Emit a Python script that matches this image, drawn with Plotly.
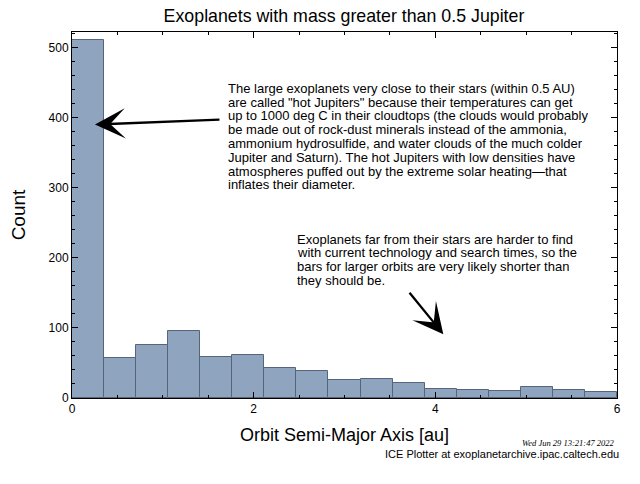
import numpy as np
import plotly.graph_objects as go

# Data
counts = [510, 57, 76, 95, 59, 62, 43, 39, 25, 27, 22, 13, 12, 10, 15, 12, 8]
x_min, x_max = 0.0, 6.0
edges = np.linspace(x_min, x_max, len(counts) + 1)
centers = (edges[:-1] + edges[1:]) / 2
widths = np.diff(edges)

title_text = "Exoplanets with mass greater than 0.5 Jupiter"
xlabel = "Orbit Semi-Major Axis [au]"
ylabel = "Count"
note_hot_lines = [
    "The large exoplanets very close to their stars (within 0.5 AU)",
    "are called \"hot Jupiters\" because their temperatures can get",
    "up to 1000 deg C in their cloudtops (the clouds would probably",
    "be made out of rock-dust minerals instead of the ammonia,",
    "ammonium hydrosulfide, and water clouds of the much colder",
    "Jupiter and Saturn). The hot Jupiters with low densities have",
    "atmospheres puffed out by the extreme solar heating\u2014that",
    "inflates their diameter.",
]
note_far_lines = [
    "Exoplanets far from their stars are harder to find",
    "with current technology and search times, so the",
    "bars for larger orbits are very likely shorter than",
    "they should be.",
]
stamp = "Wed Jun 29 13:21:47 2022"
credit = "ICE Plotter at exoplanetarchive.ipac.caltech.edu"

FONT = "Liberation Sans, Arial, sans-serif"
LINE_H = 13.8

fig = go.Figure()
fig.add_trace(go.Bar(
    x=centers, y=counts, width=widths,
    marker=dict(color="#8fa5bf", line=dict(color="#56657a", width=1)),
    showlegend=False, hoverinfo="skip",
))

fig.update_layout(
    width=640, height=484,
    margin=dict(l=72, r=23, t=32, b=86),
    paper_bgcolor="white", plot_bgcolor="white",
    font=dict(family=FONT, color="black", size=12),
    bargap=0,
    title=dict(text=title_text, x=0.5375, xanchor="center", y=0.967, yanchor="middle",
               font=dict(size=17.8, family=FONT)),
)

fig.update_xaxes(
    range=[x_min, x_max], showgrid=False, zeroline=False,
    showline=True, linecolor="black", linewidth=1, mirror="allticks",
    ticks="inside", ticklen=6, tickwidth=1.2, tickcolor="black",
    tick0=0, dtick=2,
    minor=dict(ticks="inside", dtick=0.5, ticklen=3, tickwidth=1.2, tickcolor="black"),
    title=dict(text=xlabel, font=dict(size=18), standoff=12),
    tickfont=dict(size=12),
)
fig.update_yaxes(
    range=[0, 522], showgrid=False, zeroline=False,
    showline=True, linecolor="black", linewidth=1, mirror="allticks",
    ticks="inside", ticklen=6, tickwidth=1.2, tickcolor="black",
    tick0=0, dtick=100,
    minor=dict(ticks="inside", dtick=20, ticklen=3, tickwidth=1.2, tickcolor="black"),
    title=dict(text=ylabel, font=dict(size=19), standoff=17),
    tickfont=dict(size=12),
)

annotations = []
for i, line in enumerate(note_hot_lines):
    annotations.append(dict(xref="x", yref="y", x=1.71, y=441, xanchor="left",
                            yanchor="middle", yshift=-i * LINE_H, text=line,
                            showarrow=False, align="left", borderpad=0,
                            height=LINE_H, font=dict(size=13)))
for i, line in enumerate(note_far_lines):
    annotations.append(dict(xref="x", yref="y", x=2.47, y=226, xanchor="left",
                            yanchor="middle", yshift=-i * LINE_H, text=line,
                            showarrow=False, align="left", borderpad=0,
                            height=LINE_H, font=dict(size=13)))
annotations += [
    dict(xref="x", yref="y", x=0.253, y=390, text="", showarrow=True,
         axref="pixel", ayref="pixel", ax=126, ay=-5,
         arrowhead=3, arrowsize=2.2, arrowwidth=2.3, arrowcolor="black"),
    dict(xref="x", yref="y", x=4.088, y=91, text="", showarrow=True,
         axref="pixel", ayref="pixel", ax=-35, ay=-43,
         arrowhead=3, arrowsize=2.2, arrowwidth=2.3, arrowcolor="black"),
    dict(xref="paper", yref="paper", x=1.0, y=-0.122, xanchor="right", yanchor="middle",
         text=stamp, showarrow=False,
         font=dict(size=8.5, family="Liberation Serif, serif", style="italic")),
    dict(xref="paper", yref="paper", x=1.0075, y=-0.152, xanchor="right", yanchor="middle",
         text=credit, showarrow=False, font=dict(size=11)),
]
fig.update_layout(annotations=annotations)

fig.write_html("out.html", config={"displayModeBar": False},
               post_script="document.body.style.margin='0';")
